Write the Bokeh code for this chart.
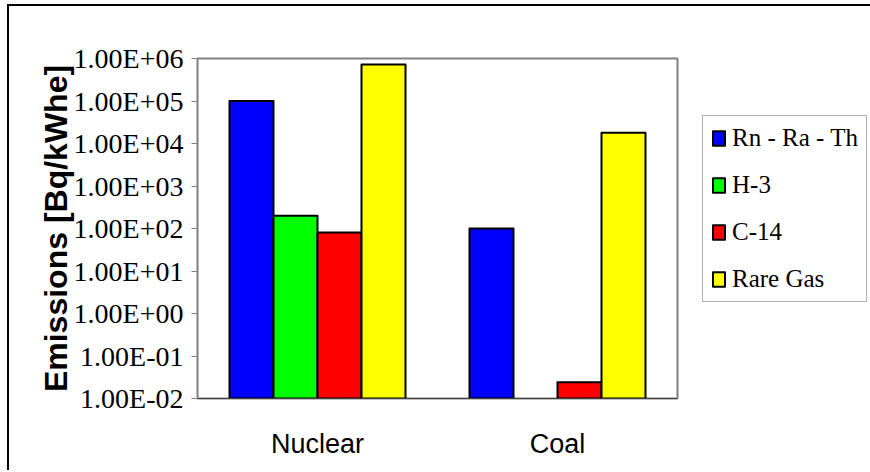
import math
from bokeh.plotting import figure
from bokeh.models import FactorRange, FixedTicker, Legend, LegendItem, ColumnDataSource
from bokeh.transform import dodge
from bokeh.embed import file_html
from bokeh.resources import INLINE

categories = ["Nuclear", "Coal"]
series_names = ["Rn - Ra - Th", "H-3", "C-14", "Rare Gas"]
rn_ra_th = [1.0e5, 1.0e2]
h3 = [2.0e2, float("nan")]
c14 = [8.0e1, 2.4e-2]
rare_gas = [7.2e5, 1.78e4]
y_ticks = [1e-2, 1e-1, 1e0, 1e1, 1e2, 1e3, 1e4, 1e5, 1e6]
y_tick_labels = ["1.00E-02", "1.00E-01", "1.00E+00", "1.00E+01", "1.00E+02",
                 "1.00E+03", "1.00E+04", "1.00E+05", "1.00E+06"]
y_title = "Emissions [Bq/kWhe]"

colors = ["#0000FF", "#00FF00", "#FF0000", "#FFFF00"]
series_values = [rn_ra_th, h3, c14, rare_gas]

p = figure(
    x_range=FactorRange(*categories, range_padding=0),
    y_range=(1e-2, 1e6),
    y_axis_type="log",
    width=856, height=464,
    frame_width=480, frame_height=340,
    min_border_left=188, min_border_top=52, min_border_bottom=72, min_border_right=188,
    output_backend="svg", toolbar_location=None,
)
p.styles = {"border-left": "2px solid #000000", "border-top": "2px solid #000000",
            "margin-left": "7px", "margin-top": "4px"}

src = ColumnDataSource(dict(cat=categories, **{f"s{i}": v for i, v in enumerate(series_values)}))
bw = 44 / 240
items = []
for i, (name, col) in enumerate(zip(series_names, colors)):
    r = p.vbar(x=dodge("cat", (i - 1.5) * bw, range=p.x_range), top=f"s{i}", bottom=1e-2,
               width=bw, source=src, fill_color=col, line_color="#000000",
               line_width=2, line_join="round")
    items.append(LegendItem(label=name, renderers=[r]))

p.grid.visible = False
p.background_fill_color = "#FFFFFF"
p.outline_line_color = "#808080"
p.outline_line_width = 2

ya = p.yaxis[0]
ya.ticker = FixedTicker(ticks=y_ticks, minor_ticks=[])
ya.major_label_overrides = dict(zip(y_ticks, y_tick_labels))
ya.major_label_text_font = "Liberation Serif"
ya.major_label_text_font_size = "28px"
ya.major_label_text_color = "#000000"
ya.major_tick_out = 6
ya.major_tick_in = 0
ya.minor_tick_out = 0
ya.minor_tick_in = 0
ya.major_label_standoff = 8
ya.axis_line_color = "#808080"
ya.major_tick_line_color = "#808080"
ya.axis_label = y_title
ya.axis_label_text_font = "Liberation Sans"
ya.axis_label_text_font_style = "bold"
ya.axis_label_text_font_size = "32px"
ya.axis_label_text_color = "#000000"
ya.axis_label_standoff = -3

xa = p.xaxis[0]
xa.major_label_text_font = "Liberation Sans"
xa.major_label_text_font_size = "27px"
xa.major_label_text_color = "#000000"
xa.major_tick_out = 0
xa.major_tick_in = 0
xa.major_label_standoff = 30
xa.axis_line_color = "#404040"
xa.axis_line_width = 1

legend = Legend(items=items, location=(25, 96))
legend.label_text_font = "Liberation Serif"
legend.label_text_font_size = "25px"
legend.label_text_color = "#000000"
legend.glyph_width = 15
legend.glyph_height = 18
legend.label_height = 28
legend.label_width = 124
legend.label_standoff = 6
legend.spacing = 19
legend.padding = 8
legend.margin = 0
legend.border_line_color = "#606060"
legend.border_line_width = 1
legend.background_fill_color = "#FFFFFF"
p.add_layout(legend, "right")

open("out.html", "w").write(file_html(p, INLINE))
